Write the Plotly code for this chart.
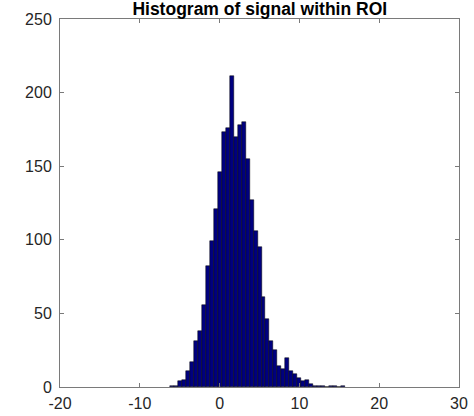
import plotly.graph_objects as go

bin_centers = [-6.0, -5.5, -5.0, -4.5, -4.0, -3.5, -3.0, -2.5, -2.0, -1.5, -1.0, -0.5,
               0.0, 0.5, 1.0, 1.5, 2.0, 2.5, 3.0, 3.5, 4.0, 4.5, 5.0, 5.5, 6.0, 6.5,
               7.0, 7.5, 8.0, 8.5, 9.0, 9.5, 10.0, 10.5, 11.0, 11.5, 12.0, 12.5, 13.0,
               13.5, 14.0, 14.5, 15.0, 15.5]
counts = [1, 1, 4, 5, 11, 17, 31, 38, 56, 82, 99, 121,
          146, 173, 176, 211, 170, 178, 180, 155, 127, 106, 95, 61, 46, 31,
          25, 14, 12, 20, 11, 9, 6, 4, 5, 2, 1, 1, 1,
          0, 1, 1, 0, 1]
bin_width = 0.5
x_ticks = [-20, -10, 0, 10, 20, 30]
x_tick_labels = ["-20", "-10", "0", "10", "20", "30"]
y_ticks = [0, 50, 100, 150, 200, 250]
y_tick_labels = ["0", "50", "100", "150", "200", "250"]
title_text = "Histogram of signal within ROI"

fig = go.Figure(go.Bar(
    x=bin_centers, y=counts, width=bin_width,
    marker=dict(color="#00007f", line=dict(color="#000000", width=0.5)),
))

axis_common = dict(
    showgrid=False, zeroline=False, showline=True, mirror="ticks",
    linecolor="#7a7a7a", linewidth=1, ticks="inside", ticklen=4,
    tickcolor="#7a7a7a", automargin=False,
    tickfont=dict(family="Liberation Sans, Arial", size=16, color="#262626"),
)

fig.update_layout(
    width=474, height=416,
    margin=dict(l=60, r=15, t=19, b=29),
    paper_bgcolor="white", plot_bgcolor="white",
    bargap=0, showlegend=False,
    title=dict(text="<b>" + title_text + "</b>", x=0.548, xanchor="center", y=0.979, yanchor="middle",
               font=dict(family="Liberation Sans, Arial", size=17.5, color="#000000")),
    xaxis=dict(range=[-20, 30], tickvals=x_ticks, ticktext=x_tick_labels, ticklabelstandoff=2, **axis_common),
    yaxis=dict(range=[0, 250], tickvals=y_ticks, ticktext=y_tick_labels, ticklabelstandoff=4, **axis_common),
)

fig.write_html("out.html")
